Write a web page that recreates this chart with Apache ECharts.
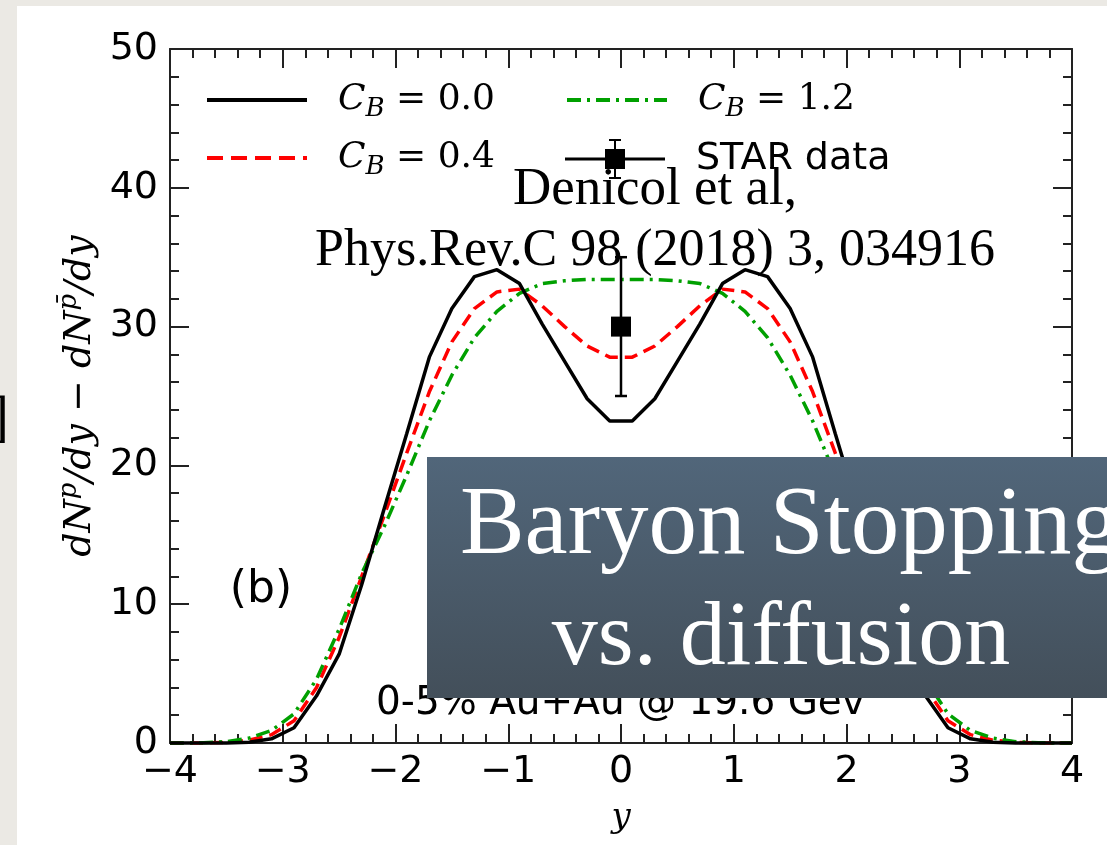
<!DOCTYPE html>
<html><head><meta charset="utf-8">
<script src="https://cdn.jsdelivr.net/npm/echarts@6/dist/echarts.min.js"></script>
<style>
html,body{margin:0;padding:0;width:1107px;height:845px;overflow:hidden;background:#ebe9e4;}
#card{position:absolute;left:17px;top:6px;width:1090px;height:839px;background:#fff;}
#chart{position:absolute;left:0;top:0;width:1107px;height:845px;}
</style></head><body>
<div id="card"></div><div id="chart"></div>
<script>
// rapidity grid
const rapidity = [-4.0,-3.9,-3.7,-3.5,-3.3,-3.1,-2.9,-2.7,-2.5,-2.3,-2.1,-1.9,-1.7,-1.5,-1.3,-1.1,-0.9,-0.7,-0.5,-0.3,-0.1,
                   0.1,0.3,0.5,0.7,0.9,1.1,1.3,1.5,1.7,1.9,2.1,2.3,2.5,2.7,2.9,3.1,3.3,3.5,3.7,3.9,4.0];
// C_B = 0.0 (black solid)
const cb00 = [0,0,0,0,0.05,0.3,1.1,3.4,6.4,11.4,16.9,22.3,27.8,31.3,33.6,34.1,33.1,30.2,27.5,24.8,23.2,
              23.2,24.8,27.5,30.2,33.1,34.1,33.6,31.3,27.8,22.3,16.9,11.4,6.4,3.4,1.1,0.3,0.05,0,0,0,0];
// C_B = 0.4 (red dashed)
const cb04 = [0,0,0,0.05,0.2,0.6,1.6,4.0,7.6,12.0,16.4,20.9,25.3,28.9,31.3,32.5,32.7,31.5,30.0,28.6,27.8,
              27.8,28.6,30.0,31.5,32.7,32.5,31.3,28.9,25.3,20.9,16.4,12.0,7.6,4.0,1.6,0.6,0.2,0.05,0,0,0];
// C_B = 1.2 (green dash-dot)
const cb12 = [0,0,0.02,0.1,0.35,0.9,2.1,4.6,8.2,12.2,15.6,19.3,23.2,26.5,29.2,31.1,32.4,33.1,33.3,33.4,33.4,
              33.4,33.4,33.3,33.1,32.4,31.1,29.2,26.5,23.2,19.3,15.6,12.2,8.2,4.6,2.1,0.9,0.35,0.1,0.02,0,0];
// STAR data
const starY = [0];
const starVal = [30];
const starLow = [25];
const starHigh = [35];

const seriesLabels = {cb00:'0.0', cb04:'0.4', cb12:'1.2'};
const seriesDash = {cb00:'solid', cb04:[16,8], cb12:[14,6,3,6]};
const seriesColor = {cb00:'#000', cb04:'#ff0000', cb12:'#00a000'};

function pairs(xs, ys){ return xs.map((x,i)=>[x, ys[i]]); }

const mathRich = {
  sp:{width:26},
  c:{fontFamily:'DejaVu Serif', fontStyle:'italic', fontSize:36, lineHeight:44, color:'#000'},
  b:{fontFamily:'DejaVu Serif', fontStyle:'italic', fontSize:26, lineHeight:26, verticalAlign:'bottom', color:'#000'},
  n:{fontFamily:'DejaVu Serif', fontSize:36, lineHeight:44, color:'#000'}
};
function cbFormatter(name){ return '{sp|}{c|C}{b|B}{n| = ' + seriesLabels[name] + '}'; }

function lineLegend(name, left, cy){
  return {data:[name], left:left, top:cy-20, padding:0, itemWidth:100, itemHeight:50, selectedMode:false,
          itemStyle:{color:'rgba(0,0,0,0)', borderWidth:0, opacity:0},
          lineStyle:{width:4, color:seriesColor[name], type:seriesDash[name]},
          formatter:cbFormatter, textStyle:{rich:mathRich}};
}

const chart = echarts.init(document.getElementById('chart'), null, {renderer:'canvas'});
const tickStyle = {color:'#222', width:2};
const option = {
  animation:false,
  grid:{left:170, top:49, right:35, bottom:102, containLabel:false},
  legend:[
    lineLegend('cb00', 205, 100),
    lineLegend('cb04', 205, 158),
    lineLegend('cb12', 565, 100),
    {data:[{name:'STAR data', icon:'path://M0 18.5H100V21.5H0Z M40 10H60V30H40Z M49 0H51V40H49Z M44 0H56V2H44Z M44 38H56V40H44Z'}],
     left:565, top:139, padding:0, itemWidth:100, itemHeight:40, selectedMode:false,
     itemStyle:{color:'#000', opacity:1},
     formatter:'{sp|}{t|STAR data}',
     textStyle:{rich:{sp:{width:26}, t:{fontFamily:'DejaVu Sans', fontSize:38, color:'#000'}}}}
  ],
  xAxis:[
    {type:'value', min:-4, max:4, interval:1, position:'bottom',
     axisLine:{show:true, onZero:false, lineStyle:{color:'#222', width:2}},
     axisTick:{show:true, inside:true, length:19, lineStyle:tickStyle},
     minorTick:{show:true, splitNumber:5, length:9, lineStyle:tickStyle},
     splitLine:{show:false},
     axisLabel:{margin:10, fontFamily:'DejaVu Sans', fontSize:38, color:'#000',
                formatter:v=>String(v).replace('-','\u2212')},
     name:'y', nameLocation:'middle', nameGap:58,
     nameTextStyle:{fontFamily:'DejaVu Serif', fontStyle:'italic', fontSize:34, color:'#000'}},
    {type:'value', min:-4, max:4, interval:1, position:'top',
     axisLine:{show:true, onZero:false, lineStyle:{color:'#222', width:2}},
     axisTick:{show:true, inside:true, length:19, lineStyle:tickStyle},
     minorTick:{show:true, splitNumber:5, length:9, lineStyle:tickStyle},
     splitLine:{show:false}, axisLabel:{show:false}}
  ],
  yAxis:[
    {type:'value', min:0, max:50, interval:10, position:'left',
     axisLine:{show:true, onZero:false, lineStyle:{color:'#222', width:2}},
     axisTick:{show:true, inside:true, length:19, lineStyle:tickStyle},
     minorTick:{show:true, splitNumber:5, length:9, lineStyle:tickStyle},
     splitLine:{show:false},
     axisLabel:{margin:12, fontFamily:'DejaVu Sans', fontSize:38, color:'#000'},
     name:'{m|dN}{s|p}{m|/dy \u2212 dN}{s|p\u0304}{m|/dy}', nameLocation:'middle', nameGap:66, nameRotate:90,
     nameTextStyle:{rich:{
       m:{fontFamily:'DejaVu Serif', fontStyle:'italic', fontSize:38, lineHeight:46, color:'#000'},
       s:{fontFamily:'DejaVu Serif', fontStyle:'italic', fontSize:26, lineHeight:26, verticalAlign:'top', color:'#000'}
     }}},
    {type:'value', min:0, max:50, interval:10, position:'right',
     axisLine:{show:true, onZero:false, lineStyle:{color:'#222', width:2}},
     axisTick:{show:true, inside:true, length:19, lineStyle:tickStyle},
     minorTick:{show:true, splitNumber:5, length:9, lineStyle:tickStyle},
     splitLine:{show:false}, axisLabel:{show:false}}
  ],
  series:[
    {name:'cb00', type:'line', data:pairs(rapidity, cb00), symbol:'none', clip:false, z:4,
     itemStyle:{color:'#000'}, lineStyle:{color:'#000', width:3.5}},
    {name:'cb04', type:'line', data:pairs(rapidity, cb04), symbol:'none', clip:false, z:3,
     itemStyle:{color:'#ff0000'}, lineStyle:{color:'#ff0000', width:3.5, type:[13,7]}},
    {name:'cb12', type:'line', data:pairs(rapidity, cb12), symbol:'none', clip:false, z:3,
     itemStyle:{color:'#00a000'}, lineStyle:{color:'#00a000', width:3.5, type:[14,6,3,6]}},
    {name:'err', type:'custom', z:5, silent:true,
     data:starY.map((x,i)=>[x, starLow[i], starHigh[i]]),
     renderItem:function(params, api){
       const lo = api.coord([api.value(0), api.value(1)]);
       const hi = api.coord([api.value(0), api.value(2)]);
       const st = {stroke:'#000', lineWidth:2.5};
       return {type:'group', children:[
         {type:'line', shape:{x1:lo[0], y1:lo[1], x2:hi[0], y2:hi[1]}, style:st},
         {type:'line', shape:{x1:lo[0]-6, y1:lo[1], x2:lo[0]+6, y2:lo[1]}, style:st},
         {type:'line', shape:{x1:hi[0]-6, y1:hi[1], x2:hi[0]+6, y2:hi[1]}, style:st}
       ]};
     }},
    {name:'STAR data', type:'scatter', data:pairs(starY, starVal), symbol:'rect', symbolSize:20, z:6,
     itemStyle:{color:'#000', opacity:1}}
  ],
  graphic:[
    {type:'text', x:9, y:420, z:50, style:{text:']', font:'56px "Liberation Serif"', fill:'#000', textAlign:'right', textVerticalAlign:'middle'}},
    {type:'text', x:655, y:190, z:50, style:{text:'Denicol et al,', font:'53px "Liberation Serif"', fill:'#000', textAlign:'center', textVerticalAlign:'middle'}},
    {type:'text', x:655, y:251, z:50, style:{text:'Phys.Rev.C 98 (2018) 3, 034916', font:'52px "Liberation Serif"', fill:'#000', textAlign:'center', textVerticalAlign:'middle'}},
    {type:'text', x:261, y:591, z:50, style:{text:'(b)', font:'44px "DejaVu Sans"', fill:'#000', textAlign:'center', textVerticalAlign:'middle'}},
    {type:'text', x:376, y:704, z:50, style:{text:'0-5% Au+Au @ 19.6 Gev', font:'39px "DejaVu Sans"', fill:'#000', textAlign:'left', textVerticalAlign:'middle'}},
    {type:'rect', z:100, shape:{x:427, y:457, width:720, height:241},
     style:{fill:new echarts.graphic.LinearGradient(0,0,0,1,[{offset:0,color:'#51667a'},{offset:1,color:'#434f5a'}])}},
    {type:'text', x:790, y:528, z:101, style:{text:'Baryon Stopping', font:'97px "Liberation Serif"', fill:'#fff', textAlign:'center', textVerticalAlign:'middle'}},
    {type:'text', x:781, y:640, z:101, style:{text:'vs. diffusion', font:'92px "Liberation Serif"', fill:'#fff', textAlign:'center', textVerticalAlign:'middle'}}
  ]
};
chart.setOption(option);
</script>
</body></html>
